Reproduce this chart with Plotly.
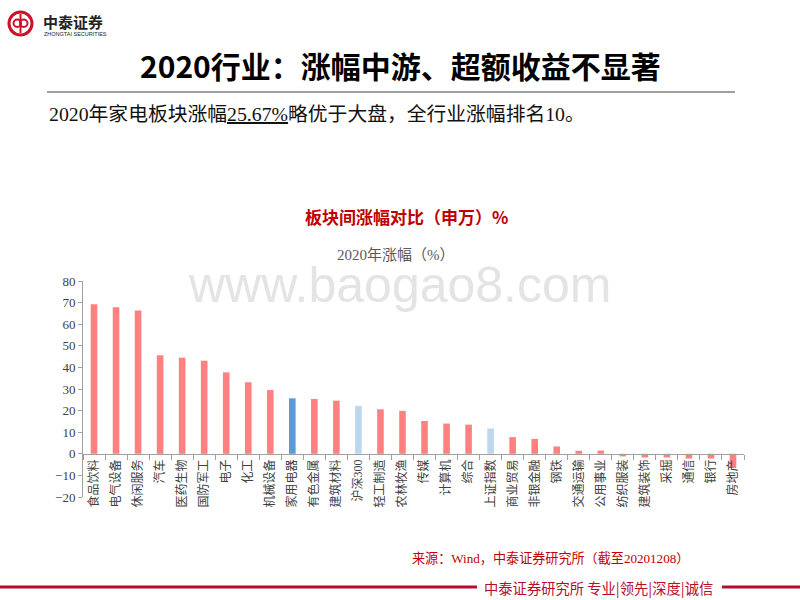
import plotly.graph_objects as go

categories = ["食品饮料", "电气设备", "休闲服务", "汽车", "医药生物", "国防军工", "电子", "化工",
              "机械设备", "家用电器", "有色金属", "建筑材料", "沪深300", "轻工制造", "农林牧渔",
              "传媒", "计算机", "综合", "上证指数", "商业贸易", "非银金融", "钢铁", "交通运输",
              "公用事业", "纺织服装", "建筑装饰", "采掘", "通信", "银行", "房地产"]
values = [69.2, 67.8, 66.3, 45.6, 44.5, 43.1, 37.7, 33.1, 29.5, 25.67, 25.4, 24.6, 22.2, 20.6, 19.9,
          15.2, 14.0, 13.5, 11.7, 7.7, 6.9, 3.4, 1.4, 1.5, -1.2, -1.7, -1.7, -2.2, -2.2, -6.6]
y_ticks = [-20, -10, 0, 10, 20, 30, 40, 50, 60, 70, 80]

PINK = "#FF8080"
BLUE = "#5B9BD5"
LIGHT = "#BDD7EE"
colors = []
for c in categories:
    if c == "家用电器":
        colors.append(BLUE)
    elif c in ("沪深300", "上证指数"):
        colors.append(LIGHT)
    else:
        colors.append(PINK)

W, H = 800, 600
L, R, T, B = 83, 56, 281, 103
PW = W - L - R
PH = H - T - B


def px(x):
    return (x - L) / PW


def py(y):
    return (H - B - y) / PH


SERIF = "Liberation Serif, Noto Sans CJK SC"
SANS = "Noto Sans CJK SC"
RED = "#C00000"
FOOT = "#B80C2E"

fig = go.Figure()
fig.add_trace(go.Bar(x=categories, y=values, marker=dict(color=colors, line=dict(width=0)),
                     width=0.3, showlegend=False, hoverinfo="skip"))

fig.update_layout(
    width=W, height=H,
    margin=dict(l=L, r=R, t=T, b=B),
    paper_bgcolor="white", plot_bgcolor="white",
    bargap=0.7,
    xaxis=dict(type="category", anchor="free", position=(0 - y_ticks[0]) / (y_ticks[-1] - y_ticks[0]),
               ticks="outside", tickson="boundaries", ticklen=5, tickcolor="#A0A0A0",
               showline=True, linecolor="#A0A0A0", linewidth=1, showgrid=False, zeroline=False,
               tickangle=-90, tickfont=dict(family=SERIF, size=12, color="#404040"),
               range=[-0.5, len(categories) - 0.5]),
    yaxis=dict(range=[y_ticks[0], y_ticks[-1]], tickmode="array", tickvals=y_ticks,
               ticks="outside", ticklen=4, tickcolor="#A0A0A0",
               showline=True, linecolor="#A0A0A0", linewidth=1, showgrid=False, zeroline=False,
               tickfont=dict(family=SERIF, size=13, color="#404040")),
)

ann = []
# watermark
ann.append(dict(text="www.baogao8.com", x=px(399), y=py(285), xref="paper", yref="paper",
                showarrow=False, xanchor="center", yanchor="middle",
                font=dict(family="Liberation Sans", size=50, color="#E4E4E4")))
# logo text
ann.append(dict(text="<b>中泰证券</b>", x=px(41), y=py(21), xref="paper", yref="paper",
                showarrow=False, xanchor="left", yanchor="middle",
                font=dict(family=SANS, size=15, color="#222222")))
ann.append(dict(text="ZHONGTAI SECURITIES", x=px(42), y=py(34), xref="paper", yref="paper",
                showarrow=False, xanchor="left", yanchor="middle",
                font=dict(family="Liberation Sans", size=5.5, color="#222222")))
# main title
ann.append(dict(text="<b>2020行业：涨幅中游、超额收益不显著</b>", x=px(400), y=py(65), xref="paper", yref="paper",
                showarrow=False, xanchor="center", yanchor="middle",
                font=dict(family=SANS, size=30, color="#000000")))
# subtitle
ann.append(dict(text="2020年家电板块涨幅<u>25.67%</u>略优于大盘，全行业涨幅排名10。", x=px(47), y=py(114),
                xref="paper", yref="paper", showarrow=False, xanchor="left", yanchor="middle",
                font=dict(family=SERIF, size=19.8, color="#111111")))
# chart title
ann.append(dict(text="<b>板块间涨幅对比（申万）%</b>", x=px(406), y=py(216), xref="paper", yref="paper",
                showarrow=False, xanchor="center", yanchor="middle",
                font=dict(family=SANS, size=17, color=RED)))
ann.append(dict(text="2020年涨幅（%）", x=px(396), y=py(255), xref="paper", yref="paper",
                showarrow=False, xanchor="center", yanchor="middle",
                font=dict(family=SERIF, size=15, color="#595959")))
# source
ann.append(dict(text="来源：Wind，中泰证券研究所（截至20201208）", x=px(410), y=py(558), xref="paper", yref="paper",
                showarrow=False, xanchor="left", yanchor="middle",
                font=dict(family=SERIF, size=13.1, color=RED)))
# footer
ann.append(dict(text="中泰证券研究所 专业|领先|深度|诚信", x=px(598), y=py(587), xref="paper", yref="paper",
                showarrow=False, xanchor="center", yanchor="middle",
                font=dict(family=SANS, size=14.3, color=FOOT)))
fig.update_layout(annotations=ann)

shapes = []
shapes.append(dict(type="line", xref="paper", yref="paper", x0=px(47), x1=px(735), y0=py(92), y1=py(92),
                   line=dict(color="#404040", width=1)))
shapes.append(dict(type="line", xref="paper", yref="paper", x0=px(0), x1=px(477), y0=py(587), y1=py(587),
                   line=dict(color=FOOT, width=3)))
shapes.append(dict(type="line", xref="paper", yref="paper", x0=px(722), x1=px(800), y0=py(587), y1=py(587),
                   line=dict(color=FOOT, width=3)))
# logo
shapes.append(dict(type="circle", xref="paper", yref="paper", x0=px(9), x1=px(32), y0=py(12), y1=py(35),
                   line=dict(color="#D0102A", width=3)))
shapes.append(dict(type="circle", xref="paper", yref="paper", x0=px(13.5), x1=px(21), y0=py(19.5), y1=py(27),
                   line=dict(color="#D0102A", width=2)))
shapes.append(dict(type="circle", xref="paper", yref="paper", x0=px(20), x1=px(27.5), y0=py(19.5), y1=py(27),
                   line=dict(color="#D0102A", width=2)))
shapes.append(dict(type="line", xref="paper", yref="paper", x0=px(20.5), x1=px(20.5), y0=py(14), y1=py(33),
                   line=dict(color="#D0102A", width=2)))
fig.update_layout(shapes=shapes)

fig.write_html("out.html", config={"displayModeBar": False},
               post_script="document.body.style.margin='0';document.body.style.padding='0';")
